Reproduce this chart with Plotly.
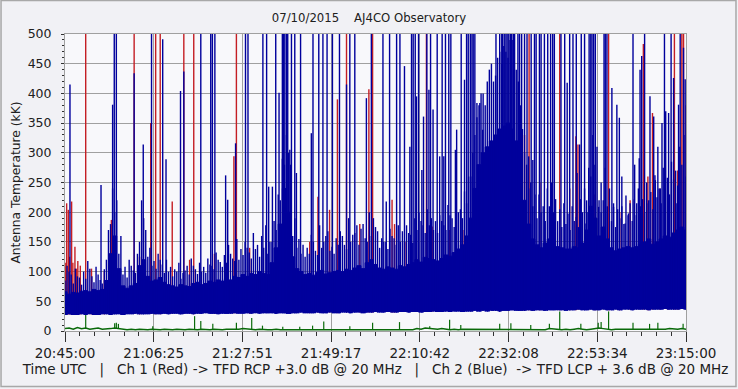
import plotly.graph_objects as go

# ---------------- text ----------------
title_text = "07/10/2015\u00a0\u00a0\u00a0\u00a0AJ4CO Observatory"
y_title = "Antenna Temperature (kK)"
x_title = ("Time UTC\u00a0\u00a0\u00a0|\u00a0\u00a0\u00a0Ch 1 (Red) -> TFD RCP +3.0 dB @ 20 MHz"
           "\u00a0\u00a0\u00a0|\u00a0\u00a0\u00a0Ch 2 (Blue)\u00a0\u00a0-> TFD LCP + 3.6 dB @ 20 MHz")
tick_labels = ["20:45:00", "21:06:25", "21:27:51", "21:49:17",
               "22:10:42", "22:32:08", "22:53:34", "23:15:00"]
y_ticks = [0, 50, 100, 150, 200, 250, 300, 350, 400, 450, 500]

# ---------------- data (minutes after 20:45:00) ----------------
minutes = list(range(151))
half_minutes = [m + 0.5 for m in range(150)]

# Ch 2 (blue) lower edge of the noise band
ch2_floor = [
    27, 28, 27, 27, 28, 27, 28, 27, 27, 28,
    28, 27, 28, 28, 27, 28, 28, 29, 28, 28,
    28, 29, 28, 28, 29, 28, 29, 29, 28, 29,
    29, 28, 29, 29, 30, 29, 29, 28, 29, 29,
    29, 30, 29, 29, 30, 29, 30, 29, 30, 30,
    30, 29, 30, 30, 29, 30, 30, 31, 30, 30,
    30, 31, 30, 30, 31, 30, 30, 31, 31, 30,
    31, 31, 30, 31, 31, 32, 31, 31, 32, 31,
    31, 32, 32, 31, 32, 32, 31, 32, 32, 33,
    32, 32, 33, 32, 33, 33, 32, 33, 33, 34,
    33, 34, 33, 34, 34, 33, 34, 34, 35, 34,
    34, 34, 35, 34, 35, 35, 34, 35, 35, 35,
    35, 34, 35, 35, 36, 35, 35, 36, 35, 35,
    36, 35, 35, 36, 35, 36, 36, 35, 36, 36,
    36, 35, 36, 36, 36, 37, 36, 36, 36, 37,
    36]

# Ch 2 (blue) solid part of the band
ch2_core = [
    66, 62, 65, 64, 67, 68, 66, 70, 68, 70,
    85, 130, 160, 105,
    76, 72, 76, 80,
    110, 120, 92, 84,
    86, 90, 82, 78,
    76, 74, 78, 76, 75, 80, 82, 78,
    80, 84, 82, 86, 84, 88, 86, 92,
    90, 95, 92, 97, 95, 100, 97, 95,
    115, 140, 180, 240, 200, 125, 105, 100,
    95, 97, 94, 99, 102, 96, 98, 100,
    102, 100, 104, 102, 106, 110, 105, 115,
    120, 112, 106, 104, 108, 106, 104, 110,
    108, 112, 115, 120, 116, 124, 122, 120,
    118, 122, 128, 126, 132, 138, 145, 160,
    190, 240, 280, 300, 310, 320, 330, 340,
    345, 350, 340, 320, 280, 220, 180, 155,
    145, 140, 148, 155, 150, 142, 140, 138,
    138, 142, 140, 148, 170, 210, 190, 160,
    175, 155, 140, 135, 138, 140, 142, 140,
    142, 146, 150, 155, 146, 150, 155, 160,
    158, 165, 170, 175, 170]

# Ch 2 (blue) ordinary peaks on the whole minutes
ch2_peak_a = [
    85, 100, 80, 92, 78, 88, 105, 82, 95, 80,
    120, 180, 200, 130,
    95, 90, 110, 98,
    150, 190, 125, 110,
    105, 120, 98, 100,
    92, 100, 88, 102, 95, 110, 96, 100,
    98, 112, 104, 120, 108, 115, 130, 118,
    120, 128, 140, 122, 138, 125, 140, 130,
    150, 170, 220, 280, 300, 160, 140, 130,
    125, 130, 150, 128, 140, 160, 135, 130,
    145, 160, 138, 150, 165, 145, 180, 150,
    160, 175, 140, 150, 138, 160, 145, 150,
    150, 165, 148, 170, 185, 165, 178, 170,
    165, 185, 170, 195, 175, 200, 190, 215,
    260, 330, 380, 400, 420, 450, 430, 470,
    480, 460, 490, 440, 380, 300, 240, 210,
    190, 200, 185, 210, 200, 185, 175, 180,
    170, 185, 175, 200, 220, 260, 280, 220,
    220, 210, 185, 175, 190, 180, 195, 185,
    195, 210, 200, 220, 205, 225, 215, 240,
    230, 255, 245, 280, 260]

# Ch 2 (blue) ordinary peaks on the half minutes
ch2_peak_b = [
    110, 95, 105, 90, 100, 118, 92, 108, 86, 104,
    170, 240, 220, 160,
    108, 120, 102, 130,
    220, 170, 140, 118,
    130, 112, 120, 108,
    104, 115, 98, 110, 122, 104, 115, 108,
    122, 110, 132, 116, 128, 145, 122, 155,
    138, 150, 132, 165, 145, 160, 178, 150,
    185, 230, 290, 330, 280, 190, 155, 145,
    140, 162, 135, 178, 150, 168, 142, 156,
    168, 145, 190, 162, 178, 172, 156, 200,
    190, 168, 156, 150, 172, 156, 178, 168,
    178, 162, 190, 200, 178, 205, 190, 185,
    195, 178, 212, 190, 222, 205, 235, 260,
    300, 360, 400, 380, 440, 420, 460, 450,
    470, 490, 460, 420, 340, 280, 250, 230,
    230, 210, 240, 250, 222, 205, 215, 198,
    210, 192, 222, 240, 275, 330, 310, 250,
    275, 240, 215, 205, 210, 228, 215, 222,
    240, 222, 250, 234, 262, 240, 275, 258,
    285, 270, 310, 330]

# Ch 2 (blue) tall bursts: time (min) and height (kK, 600 = off scale)
ch2_burst_t = [
    1.2, 8.7, 11.5, 11.9, 12.4, 16.7, 18.9, 20.9, 23.6, 24.4,
    27.9, 28.7, 32.8, 35.2, 35.6, 36.2, 38.8, 39.3, 41.2, 43.6,
    44.2, 47.8, 48.7, 49.2, 50.1, 50.9, 51.7, 52.5, 52.8, 53.1,
    53.5, 53.8, 54.3, 54.7, 55.5, 55.9, 56.9, 59.5, 59.9, 61.3,
    62.3, 63.3, 64.6, 66.3, 68.0, 68.8, 70.0, 72.8, 74.0, 76.8,
    77.6, 78.4, 80.1, 80.9, 82.0, 83.3, 83.7, 84.1, 84.6, 84.9,
    85.4, 86.2, 86.6, 87.4, 87.9, 88.3, 88.9, 89.9, 90.5, 91.1,
    91.5, 91.9, 92.7, 93.2, 94.3, 94.6, 95.7, 96.5, 97.0, 97.4,
    97.9, 98.3, 98.6, 99.0, 99.5, 100.2, 100.9, 102.1, 103.3, 104.1,
    105.0, 105.5, 105.7, 106.1, 106.5, 106.8, 107.2, 107.6, 107.9, 108.3,
    108.6, 109.4, 109.8, 110.3, 111.0, 111.6, 112.0, 112.6, 113.0, 113.4,
    113.8, 114.6, 115.0, 115.8, 116.6, 117.3, 117.8, 118.2, 119.8, 120.7,
    121.3, 121.9, 122.7, 123.5, 123.7, 124.3, 124.7, 125.5, 125.6, 126.1,
    126.6, 127.0, 127.3, 127.7, 128.1, 128.9, 129.5, 130.2, 130.5, 130.9,
    132.1, 132.5, 133.3, 133.9, 134.5, 135.3, 136.1, 137.2, 137.6, 138.1,
    138.7, 138.9, 139.3, 140.0, 140.5, 141.3, 142.2, 142.6, 143.2, 143.8,
    144.2, 144.8, 145.1, 145.8, 146.4, 147.0, 147.6, 148.2, 148.6, 149.4,
    149.8]
ch2_burst_v = [
    415, 246, 381, 600, 600, 434, 314, 600, 491, 289,
    404, 437, 600, 600, 600, 600, 262, 221, 316, 600,
    600, 600, 600, 243, 243, 600, 401, 600, 600, 600,
    600, 600, 305, 600, 600, 266, 600, 333, 600, 600,
    600, 600, 600, 600, 415, 600, 600, 392, 600, 600,
    218, 600, 600, 600, 446, 310, 600, 600, 600, 395,
    600, 271, 361, 600, 406, 600, 373, 600, 294, 600,
    294, 600, 600, 600, 305, 339, 600, 423, 600, 600,
    600, 600, 600, 600, 384, 384, 339, 198, 232, 600,
    600, 600, 600, 600, 600, 600, 600, 600, 600, 600,
    600, 600, 600, 600, 600, 600, 294, 600, 288, 600,
    600, 600, 600, 600, 600, 600, 600, 600, 600, 600,
    418, 600, 600, 600, 266, 314, 600, 600, 181, 200,
    600, 600, 600, 600, 600, 209, 200, 600, 600, 600,
    409, 209, 381, 359, 260, 181, 198, 600, 280, 215,
    291, 440, 463, 600, 215, 395, 361, 254, 310, 240,
    350, 600, 370, 367, 600, 426, 215, 381, 600, 477,
    424]

# Ch 1 (red) peaks that show above the blue channel
ch1_burst_t = [
    0.0, 0.2, 0.4, 0.8, 1.1, 1.6, 1.9, 2.4, 2.8, 3.1,
    3.7, 5.0, 6.4, 9.5, 11.2, 16.7, 18.0, 20.7, 21.9, 23.0,
    25.9, 28.7, 30.1, 31.1, 36.1, 40.8, 41.4, 44.6, 54.3, 59.1,
    61.1, 63.9, 65.8, 68.0, 71.2, 73.4, 74.3, 79.0, 79.6, 82.1,
    87.3, 88.7, 92.9, 96.1, 105.0, 111.0, 112.1, 114.7, 119.5, 121.9,
    123.4, 123.9, 128.0, 131.3, 134.0, 136.5, 139.7, 140.8, 141.9, 143.7,
    145.6, 147.2, 148.0, 149.0, 149.4, 150.0]
ch1_burst_v = [
    108, 115, 215, 204, 125, 218, 115, 142, 105, 118,
    110, 600, 105, 100, 187, 600, 125, 350, 600, 600,
    218, 600, 120, 600, 130, 294, 600, 140, 170, 150,
    226, 204, 390, 600, 180, 407, 600, 221, 180, 150,
    600, 176, 170, 170, 260, 330, 600, 250, 600, 240,
    328, 314, 230, 600, 200, 220, 483, 260, 367, 240,
    250, 600, 270, 600, 600, 380]

# Green trace (base level) and its spikes
green_base = [
    4, 5, 3, 6, 4, 5, 3, 4, 5, 3,
    3, 4, 5, 4, 3, 2, 3, 2, 3, 2,
    2, 3, 2, 2, 3, 2, 2, 3, 2, 2,
    3, 2, 2, 3, 2, 2, 3, 2, 2, 3,
    3, 2, 3, 4, 3, 2, 2, 3, 2, 2,
    2, 3, 2, 2, 2, 3, 2, 2, 3, 2,
    3, 2, 2, 3, 2, 2, 2, 3, 2, 2,
    2, 3, 2, 2, 3, 2, 2, 3, 3, 2,
    2, 3, 2, 3, 2, 4, 3, 5, 4, 3,
    3, 4, 3, 2, 3, 2, 3, 3, 2, 3,
    3, 2, 3, 2, 3, 3, 2, 3, 2, 2,
    2, 3, 2, 2, 3, 2, 2, 4, 3, 2,
    2, 3, 2, 3, 4, 3, 2, 3, 4, 5,
    4, 3, 2, 3, 3, 2, 3, 2, 3, 2,
    3, 2, 3, 3, 2, 3, 4, 3, 3, 4,
    3]
green_spike_t = [5.0, 12.0, 12.4, 12.9, 21.2, 31.3, 32.8, 35.7, 41.4, 45.1,
                 47.7, 52.6, 56.7, 59.8, 62.5, 68.8, 74.3, 80.8, 88.1, 92.9,
                 95.6, 105.0, 107.7, 112.5, 117.0, 119.5, 124.6, 128.8, 129.5, 131.3,
                 137.2, 141.2, 143.2, 149.3]
green_spike_v = [27, 13, 14, 12, 8, 25, 17, 12, 14, 22,
                 9, 7, 7, 9, 16, 8, 14, 15, 8, 19,
                 10, 12, 13, 10, 12, 33, 12, 14, 15, 33,
                 14, 12, 14, 12]

assert len(ch2_floor) == 151 and len(ch2_core) == 151 and len(green_base) == 151
assert len(ch2_peak_a) == 151 and len(ch2_peak_b) == 150
assert len(ch2_burst_t) == len(ch2_burst_v)
assert len(ch1_burst_t) == len(ch1_burst_v)
assert len(green_spike_t) == len(green_spike_v)


# ---------------- helpers ----------------
def label_to_min(lbl):
    h, m, s = (int(p) for p in lbl.split(":"))
    return (h * 3600 + m * 60 + s - (20 * 3600 + 45 * 60)) / 60.0


def nearest(arr, t):
    return arr[min(len(arr) - 1, max(0, int(round(t))))]


def segments(times, tops, base_arr):
    xs, ys = [], []
    for t, v in zip(times, tops):
        xs += [t, t, None]
        ys += [nearest(base_arr, t), v, None]
    return xs, ys


tick_vals = [label_to_min(l) for l in tick_labels]

BLUE = "#00009c"
RED = "#c41e24"
GREEN = "#0a6a0a"

fig = go.Figure()

# red channel (behind blue)
rx, ry = segments(ch1_burst_t, ch1_burst_v, ch2_floor)
fig.add_trace(go.Scatter(x=rx, y=ry, mode="lines", line=dict(color=RED, width=1.4),
                         hoverinfo="skip", showlegend=False))

# blue channel body
fig.add_trace(go.Scatter(x=minutes, y=ch2_floor, mode="lines", line=dict(width=0, color=BLUE, shape="hvh"),
                         hoverinfo="skip", showlegend=False))
fig.add_trace(go.Scatter(x=minutes, y=ch2_core, mode="lines", line=dict(width=1, color=BLUE, shape="hvh"),
                         fill="tonexty", fillcolor=BLUE, hoverinfo="skip", showlegend=False))
ax_, ay_ = segments(minutes, ch2_peak_a, ch2_floor)
fig.add_trace(go.Scatter(x=ax_, y=ay_, mode="lines", line=dict(color=BLUE, width=1.4),
                         hoverinfo="skip", showlegend=False))
bx_, by_ = segments(half_minutes, ch2_peak_b, ch2_floor)
fig.add_trace(go.Scatter(x=bx_, y=by_, mode="lines", line=dict(color=BLUE, width=1.4),
                         hoverinfo="skip", showlegend=False))
bx, by = segments(ch2_burst_t, ch2_burst_v, ch2_floor)
fig.add_trace(go.Scatter(x=bx, y=by, mode="lines", line=dict(color=BLUE, width=1.4),
                         hoverinfo="skip", showlegend=False))

# green trace
fig.add_trace(go.Scatter(x=minutes, y=green_base, mode="lines", line=dict(color=GREEN, width=1.5),
                         hoverinfo="skip", showlegend=False))
gx, gy = segments(green_spike_t, green_spike_v, green_base)
fig.add_trace(go.Scatter(x=gx, y=gy, mode="lines", line=dict(color=GREEN, width=1.2),
                         hoverinfo="skip", showlegend=False))

FONT = "DejaVu Sans"
fig.update_layout(
    width=738, height=389,
    margin=dict(l=65, r=52, t=34, b=58, autoexpand=False),
    paper_bgcolor="#f1f1f5",
    plot_bgcolor="#f8f8fb",
    font=dict(family=FONT, size=12, color="#202020"),
    title=dict(text=title_text, x=0.5, xanchor="center", y=0.953, yanchor="middle",
               font=dict(family=FONT, size=11.7, color="#202020")),
    showlegend=False,
    shapes=[dict(type="rect", xref="paper", yref="paper",
                 x0=-0.103, x1=1.0805, y0=-0.187, y1=1.1125,
                 line=dict(color="#a8a8a8", width=1.5), layer="above")],
)
fig.update_xaxes(
    range=[0, 150], tickvals=tick_vals, ticktext=tick_labels,
    ticks="outside", ticklen=10, tickcolor="#303030", tickwidth=1,
    showgrid=True, gridcolor="#a0a0a0", gridwidth=1, zeroline=False,
    showline=True, linecolor="#a0a0a0", mirror=True,
    minor=dict(tick0=0, dtick=150 / 42, ticks="outside", ticklen=4, tickcolor="#303030", showgrid=False),
    title=dict(text=x_title, standoff=2, font=dict(family=FONT, size=13.5)),
    tickfont=dict(family=FONT, size=13.5),
)
fig.update_yaxes(
    range=[0, 500], tickvals=y_ticks,
    ticks="outside", ticklen=3, tickcolor="#303030",
    showgrid=True, gridcolor="#a0a0a0", gridwidth=1, zeroline=False,
    showline=True, linecolor="#a0a0a0", mirror=True,
    minor=dict(dtick=10, ticks="outside", ticklen=2, tickcolor="#303030", showgrid=False),
    ticklabelstandoff=7,
    title=dict(text=y_title, standoff=4, font=dict(family=FONT, size=12.3)),
    tickfont=dict(family=FONT, size=12.5),
)

fig.write_html("out.html", config={"displayModeBar": False},
               post_script="document.body.style.margin='0';")
